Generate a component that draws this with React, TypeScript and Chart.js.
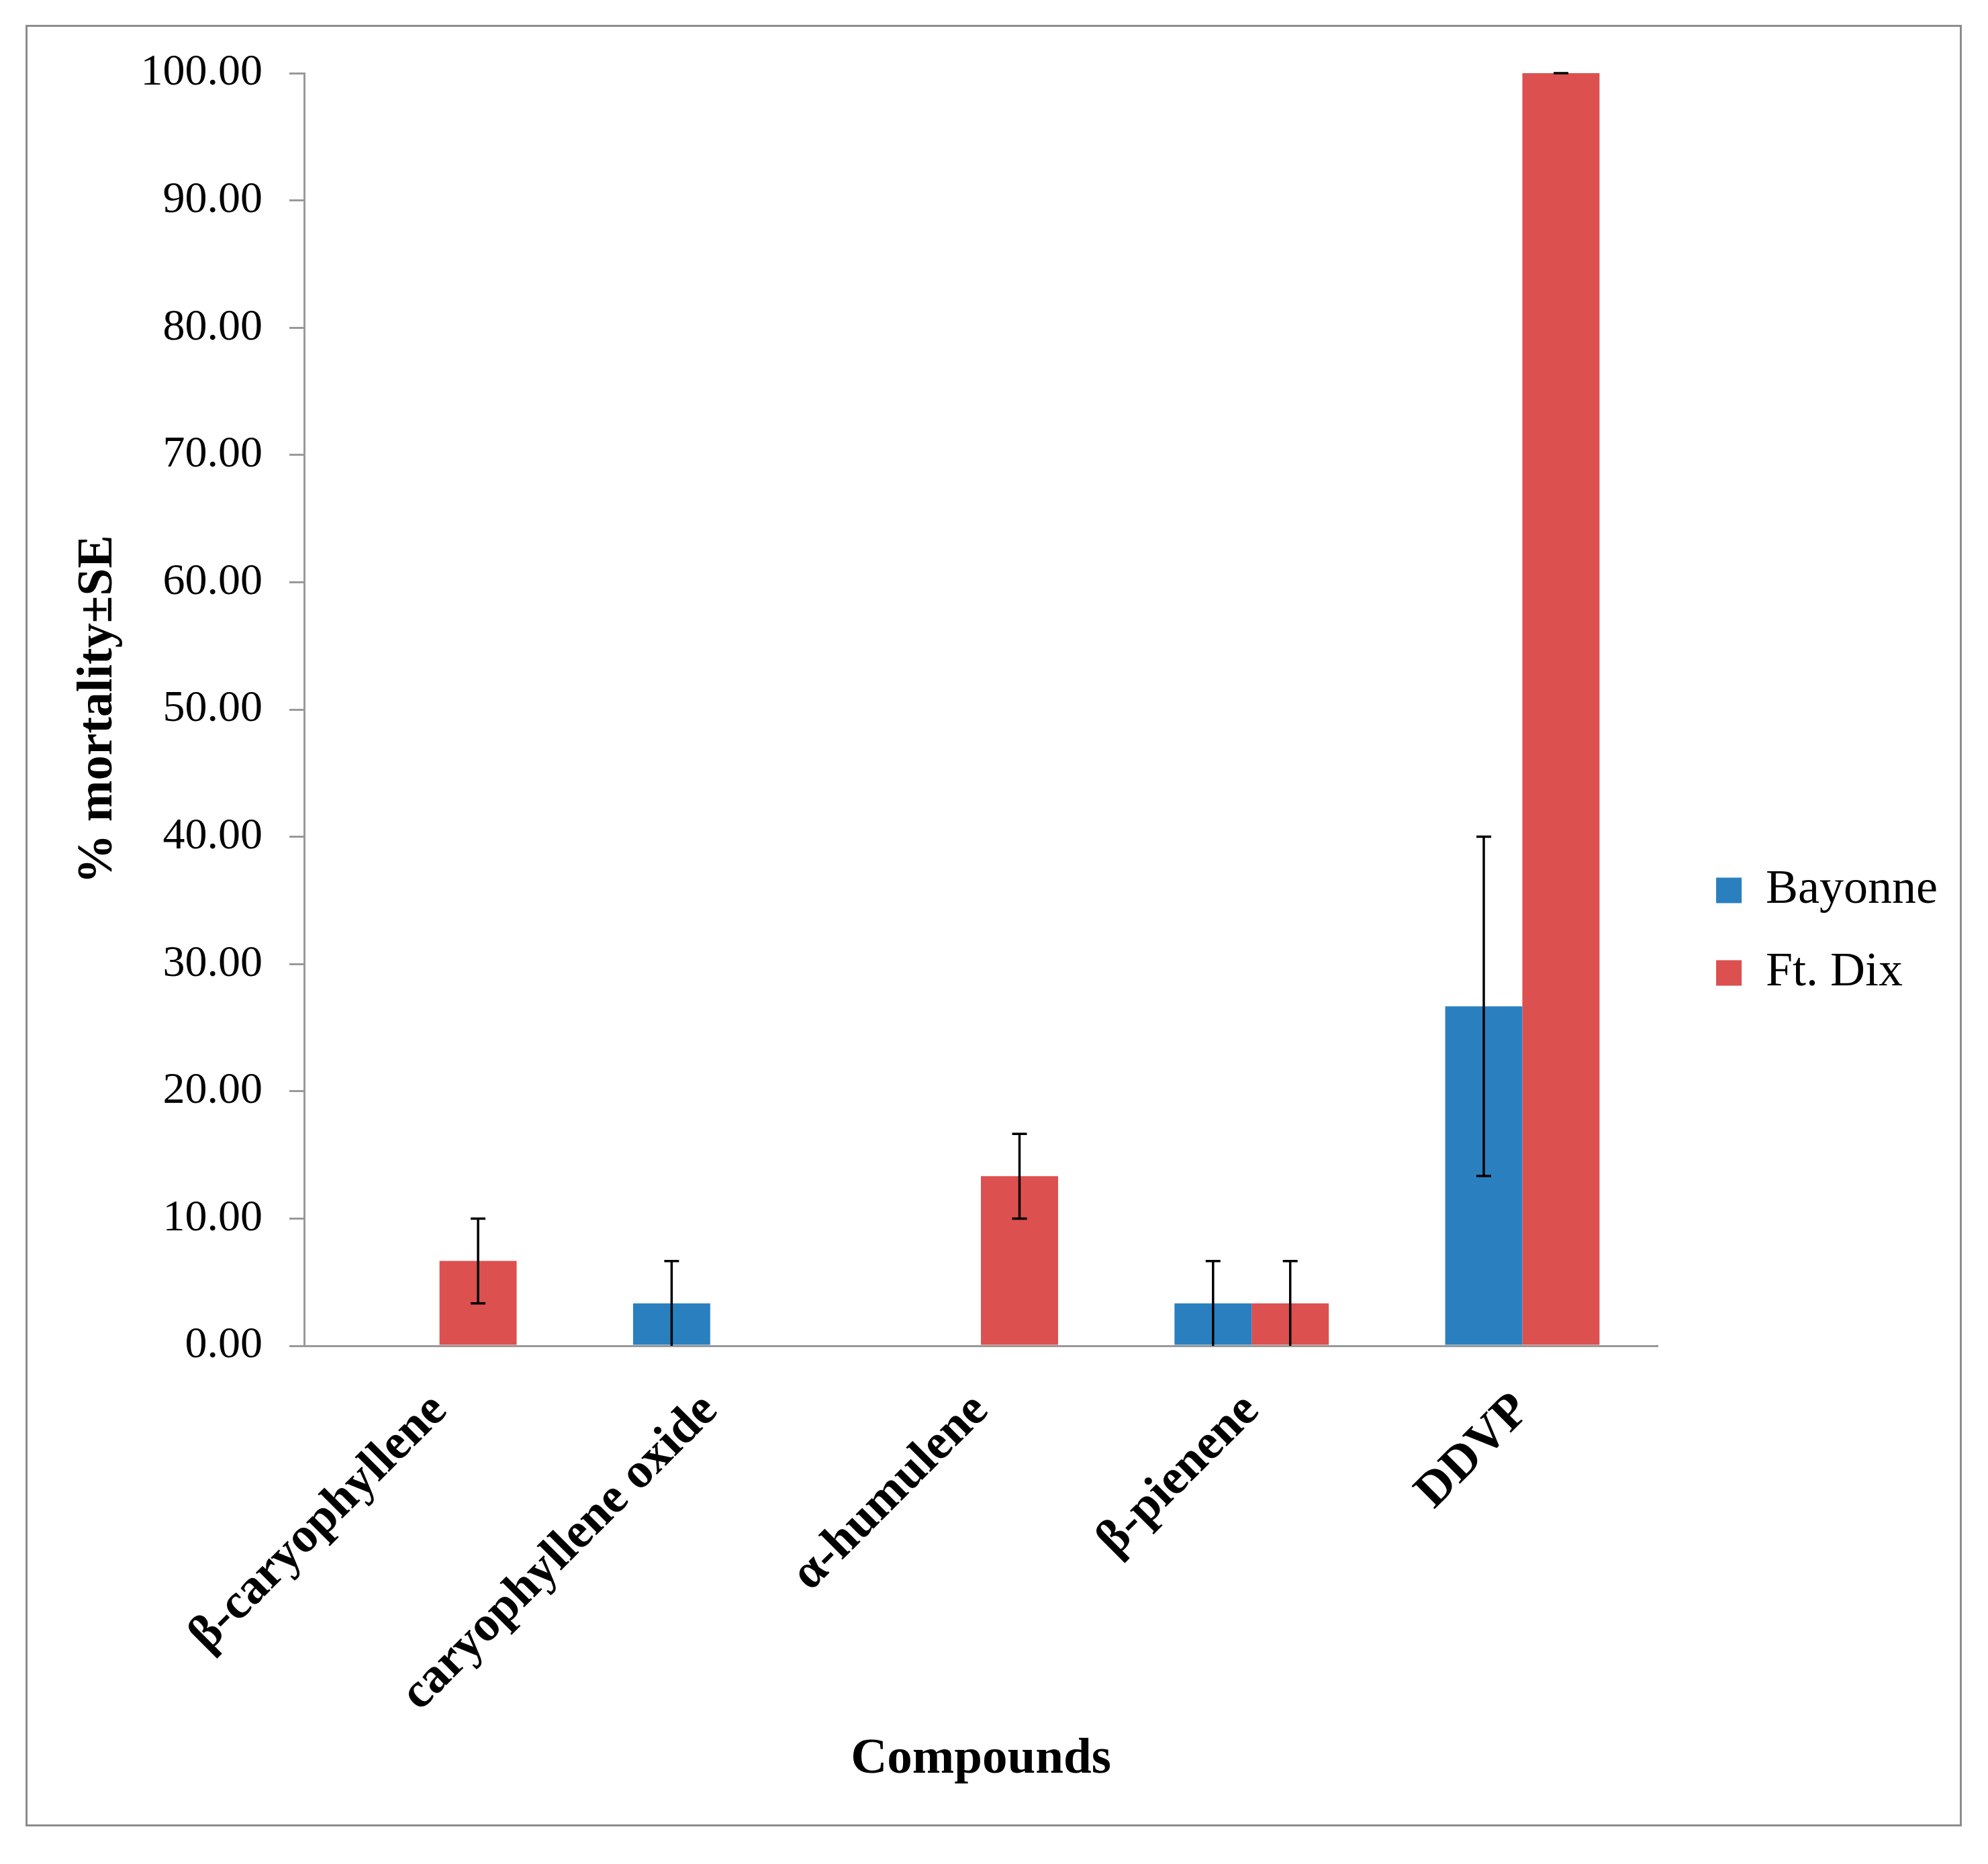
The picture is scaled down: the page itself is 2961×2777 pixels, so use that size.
import React, { useEffect, useRef } from "react";
import { Chart, registerables } from "chart.js";

Chart.register(...registerables);

const categories = ["β-caryophyllene", "caryophyllene oxide", "α-humulene", "β-pienene", "DDVP"];
const bayonneValues = [0, 3.33, 0, 3.33, 26.67];
const ftDixValues = [6.67, 0, 13.33, 3.33, 100];
const bayonneErrors = [0, 3.33, 0, 3.33, 13.33];
const ftDixErrors = [3.33, 0, 3.33, 3.33, 0];
const hasBayonneError = [false, true, false, true, true];
const hasFtDixError = [true, false, true, true, true];

const W = 2961;
const H = 2777;
const FONT = "'Liberation Serif', 'Times New Roman', serif";

const errorBarPlugin = {
  id: "errorBars",
  afterDatasetsDraw(chart: any) {
    const ctx = chart.ctx;
    const yScale = chart.scales.y;
    const errs = [bayonneErrors, ftDixErrors];
    const flags = [hasBayonneError, hasFtDixError];
    const vals = [bayonneValues, ftDixValues];
    ctx.save();
    ctx.strokeStyle = "#000";
    ctx.lineWidth = 3.5;
    const half = 11;
    chart.data.datasets.forEach((_ds: any, i: number) => {
      const meta = chart.getDatasetMeta(i);
      meta.data.forEach((bar: any, j: number) => {
        if (!flags[i][j]) return;
        const v = vals[i][j];
        const e = errs[i][j];
        const x = bar.x;
        const top = yScale.getPixelForValue(v + e);
        const lo = Math.max(0, v - e);
        const bot = yScale.getPixelForValue(lo);
        ctx.beginPath();
        ctx.moveTo(x, top);
        ctx.lineTo(x, bot);
        ctx.stroke();
        ctx.beginPath();
        ctx.moveTo(x - half, top);
        ctx.lineTo(x + half, top);
        if (lo > 0) {
          ctx.moveTo(x - half, bot);
          ctx.lineTo(x + half, bot);
        }
        ctx.stroke();
      });
    });
    ctx.restore();
  },
};

export default function App() {
  const ref = useRef<HTMLCanvasElement | null>(null);

  useEffect(() => {
    if (!ref.current) return;
    const chart = new Chart(ref.current, {
      type: "bar",
      data: {
        labels: categories,
        datasets: [
          {
            label: "Bayonne",
            data: bayonneValues,
            backgroundColor: "#2A80BF",
            categoryPercentage: 0.57,
            barPercentage: 1.0,
          },
          {
            label: "Ft. Dix",
            data: ftDixValues,
            backgroundColor: "#DC5050",
            categoryPercentage: 0.57,
            barPercentage: 1.0,
          },
        ],
      },
      options: {
        animation: false,
        responsive: false,
        devicePixelRatio: 1,
        layout: { padding: { left: 110, right: 65, top: 109, bottom: 110 } },
        plugins: {
          tooltip: { enabled: false },
          legend: {
            position: "right",
            labels: {
              boxWidth: 38,
              boxHeight: 38,
              padding: 51,
              color: "#000",
              font: { family: FONT, size: 72 },
            },
          },
        },
        scales: {
          x: {
            grid: { display: false },
            border: { display: true, color: "#999", width: 3 },
            ticks: {
              color: "#000",
              maxRotation: 45,
              minRotation: 45,
              padding: 46,
              font: { family: FONT, size: 74, weight: "bold" },
            },
            title: {
              display: true,
              text: "Compounds",
              color: "#000",
              padding: 0,
              font: { family: FONT, size: 75, weight: "bold", lineHeight: 1.2 },
            },
            afterFit: (s: any) => {
              s.height = 662;
            },
          },
          y: {
            min: 0,
            max: 100,
            grid: {
              display: true,
              drawOnChartArea: false,
              drawTicks: true,
              tickLength: 22,
              color: "#999",
              lineWidth: 3,
            },
            border: { display: true, color: "#999", width: 3 },
            ticks: {
              stepSize: 10,
              padding: 40,
              color: "#000",
              font: { family: FONT, size: 66 },
              callback: (v: any) => Number(v).toFixed(2),
            },
            title: {
              display: true,
              text: "% mortality±SE",
              color: "#000",
              padding: 0,
              font: { family: FONT, size: 74, weight: "bold", lineHeight: 1.0 },
            },
            afterFit: (s: any) => {
              s.width = 343;
            },
          },
          spacer: {
            type: "linear",
            position: "right",
            display: true,
            grid: { display: false },
            border: { display: false },
            ticks: { display: false },
            afterFit: (s: any) => {
              s.width = 36;
            },
          },
        },
      },
      plugins: [errorBarPlugin],
    } as any);
    return () => chart.destroy();
  }, []);

  return (
    <div style={{ position: "fixed", left: 0, top: 0, width: W, height: H, background: "#fff" }}>
      <div
        style={{
          position: "absolute",
          left: 38,
          top: 37,
          width: 2884,
          height: 2684,
          boxSizing: "border-box",
          border: "3px solid #8c8c8c",
        }}
      />
      <canvas
        ref={ref}
        width={W}
        height={H}
        style={{ position: "absolute", left: 0, top: 0, width: W, height: H }}
      />
    </div>
  );
}
